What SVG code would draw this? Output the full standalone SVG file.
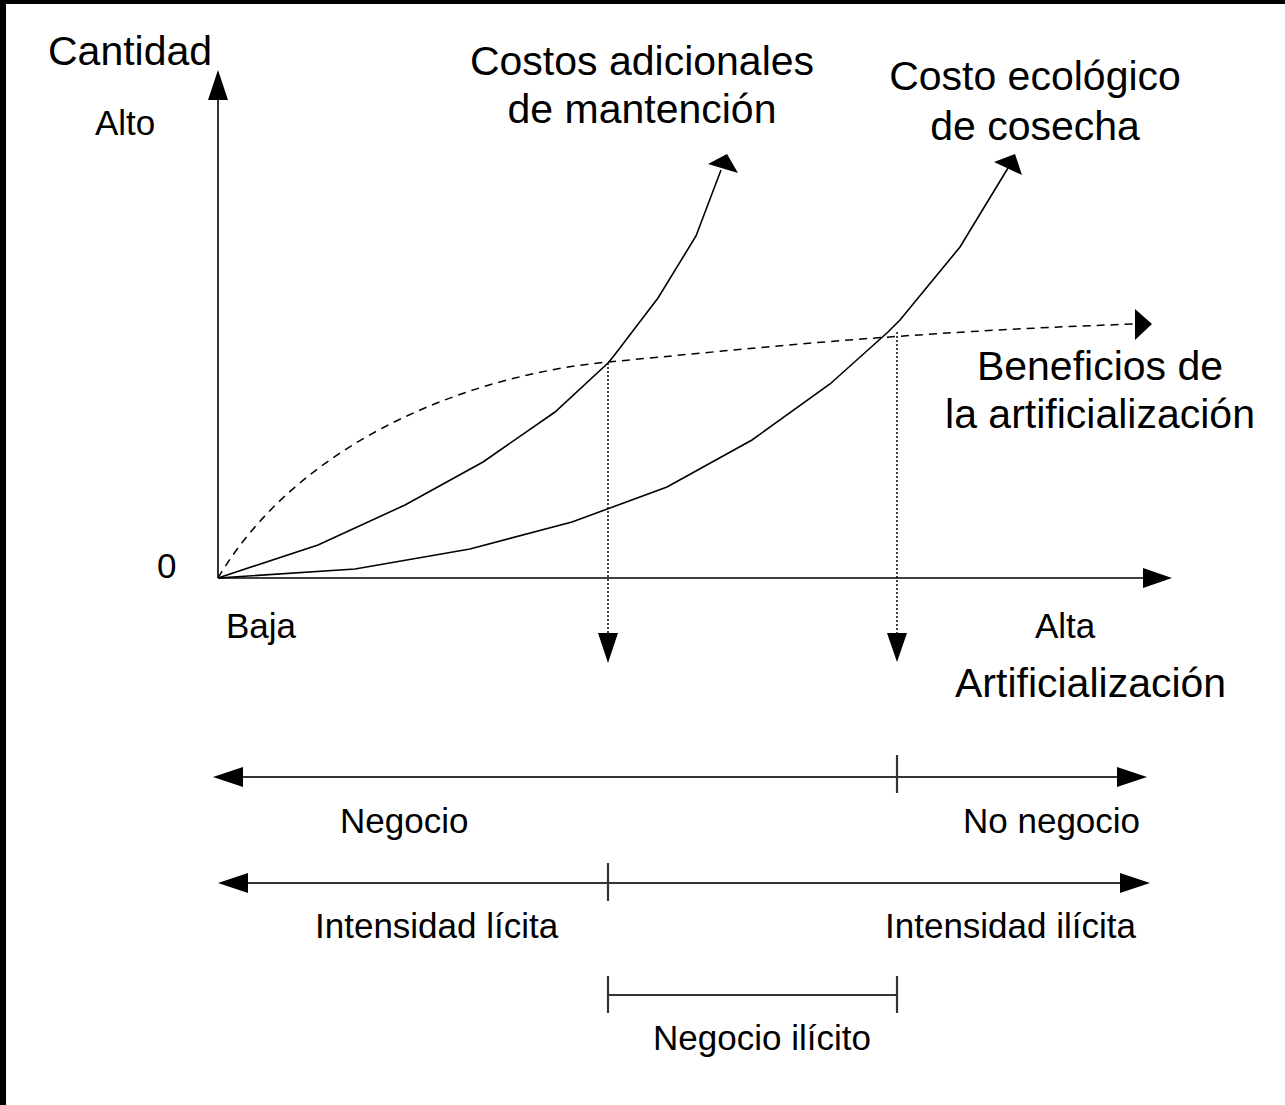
<svg xmlns="http://www.w3.org/2000/svg" width="1285" height="1105" viewBox="0 0 1285 1105">
<style>
.big{font-family:"Liberation Sans",Arial,sans-serif;font-size:41px;fill:#000}
.sm{font-family:"Liberation Sans",Arial,sans-serif;font-size:35px;fill:#000}
.ln{stroke:#000;stroke-width:1.6;fill:none}
.rule{stroke:#333;stroke-width:2.2;fill:none}
.dash{stroke:#000;stroke-width:1.5;fill:none;stroke-dasharray:8 6}
.dot{stroke:#000;stroke-width:1.5;fill:none;stroke-dasharray:2 2}
.head{fill:#000}
</style>
<rect width="1285" height="1105" fill="#fff"/>
<rect x="0" y="0" width="6" height="1105" fill="#000"/>
<rect x="0" y="0" width="1285" height="4" fill="#000"/>
<g id="connectors">
<g id="axes">
<line class="ln" x1="218" y1="578" x2="218" y2="98"/>
<polygon class="head" points="218,70 208,100 228,100"/>
<line class="ln" x1="218" y1="578" x2="1145" y2="578"/>
<polygon class="head" points="1172,578 1143,568 1143,588"/>
</g>
<g id="costos-adicionales-curve">
<polyline class="ln" points="218,578 318,545 405,505 483,462 555,412 608,363 613,357 658,298 696,236 721,170"/>
<polygon class="head" points="727,154 708,164 738,173"/>
</g>
<g id="costo-ecologico-curve">
<polyline class="ln" points="218,578 355,569 470,549 572,522 667,487 752,440 830,384 888,332 900,320 960,247 1008,168"/>
<polygon class="head" points="1015,154 994,162 1022,175"/>
</g>
<g id="beneficios-curve">
<path class="dash" d="M218,578 C300,440 470,375 608,362 S900,332 1135,324"/>
<polygon class="head" points="1152,324 1135,309 1135,340"/>
</g>
<g id="dotted-drops">
<line class="dot" x1="608" y1="363" x2="608" y2="635"/>
<polygon class="head" points="608,663 598,633 618,633"/>
<line class="dot" x1="897" y1="332" x2="897" y2="635"/>
<polygon class="head" points="897,662 887,633 907,633"/>
</g>
<g id="negocio-scale">
<line class="rule" x1="240" y1="777" x2="1120" y2="777"/>
<polygon class="head" points="213,777 243,767 243,787"/>
<polygon class="head" points="1147,777 1117,767 1117,787"/>
<line class="rule" x1="897" y1="755" x2="897" y2="793"/>
</g>
<g id="intensidad-scale">
<line class="rule" x1="245" y1="883" x2="1122" y2="883"/>
<polygon class="head" points="218,883 248,873 248,893"/>
<polygon class="head" points="1150,883 1120,873 1120,893"/>
<line class="rule" x1="608" y1="863" x2="608" y2="901"/>
</g>
<g id="ilicito-bracket">
<line class="rule" x1="608" y1="995" x2="897" y2="995"/>
<line class="rule" x1="608" y1="976" x2="608" y2="1013"/>
<line class="rule" x1="897" y1="976" x2="897" y2="1013"/>
</g>
</g>
<g id="label-cantidad"><text class="big" x="48" y="65">Cantidad</text></g>
<g id="label-alto"><text class="sm" x="95" y="135">Alto</text></g>
<g id="label-cero"><text class="sm" x="157" y="578">0</text></g>
<g id="label-baja"><text class="sm" x="226" y="638">Baja</text></g>
<g id="label-alta"><text class="sm" x="1035" y="638">Alta</text></g>
<g id="label-artificializacion"><text class="big" x="955" y="697">Artificialización</text></g>
<g id="label-costos-adicionales">
<text class="big" x="642" y="75" text-anchor="middle">Costos adicionales</text>
<text class="big" x="642" y="123" text-anchor="middle">de mantención</text>
</g>
<g id="label-costo-ecologico">
<text class="big" x="1035" y="90" text-anchor="middle">Costo ecológico</text>
<text class="big" x="1035" y="140" text-anchor="middle">de cosecha</text>
</g>
<g id="label-beneficios">
<text class="big" x="1100" y="380" text-anchor="middle">Beneficios de</text>
<text class="big" x="1100" y="428" text-anchor="middle">la artificialización</text>
</g>
<g id="label-negocio"><text class="sm" x="340" y="833">Negocio</text></g>
<g id="label-no-negocio"><text class="sm" x="963" y="833">No negocio</text></g>
<g id="label-intensidad-licita"><text class="sm" x="315" y="938">Intensidad lícita</text></g>
<g id="label-intensidad-ilicita"><text class="sm" x="885" y="938">Intensidad ilícita</text></g>
<g id="label-negocio-ilicito"><text class="sm" x="653" y="1050">Negocio ilícito</text></g>
</svg>
